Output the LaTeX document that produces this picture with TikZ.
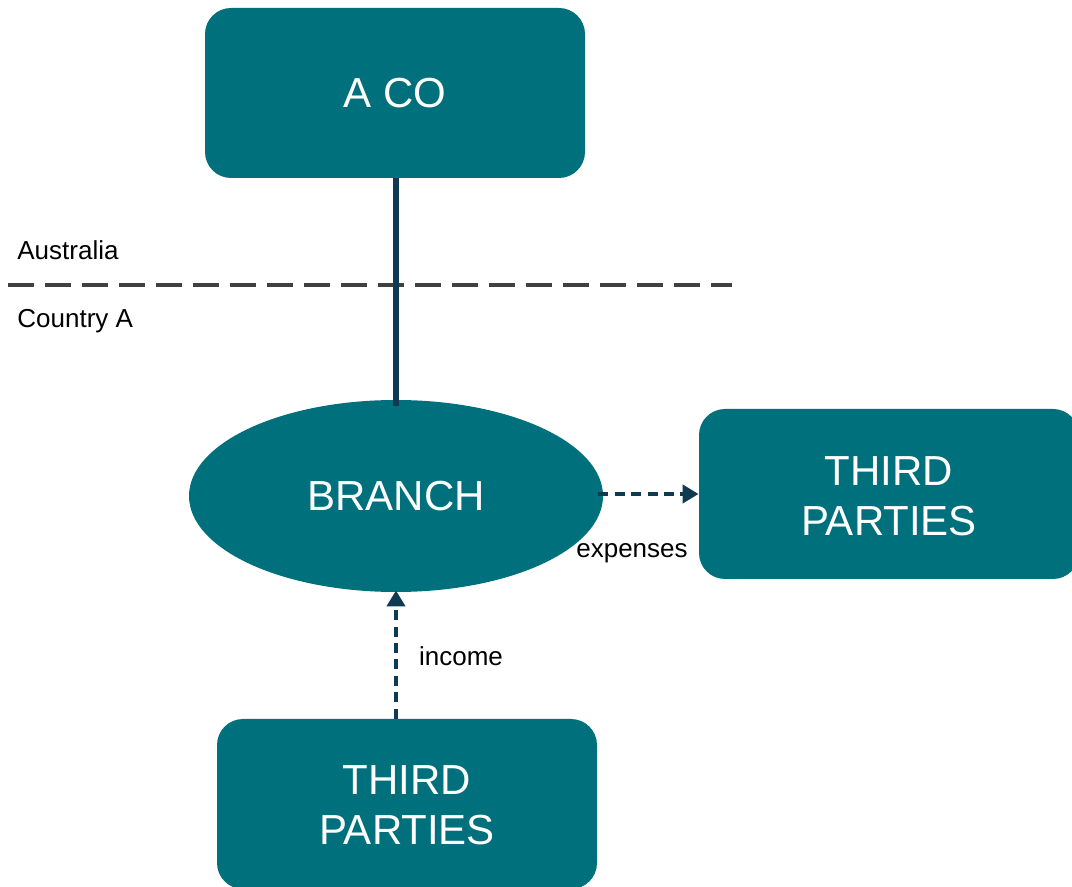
\documentclass[tikz,border=0pt]{standalone}
\usepackage{fontspec}
\setmainfont{Liberation Sans}
\usetikzlibrary{arrows.meta,shapes.geometric}
\definecolor{teal}{HTML}{00717C}
\definecolor{navy}{HTML}{0F3A52}
\definecolor{border}{HTML}{404040}
\tikzset{
  entity/.style={fill=teal, draw=none, rounded corners=13pt, text=white,
    font=\fontsize{21}{25}\selectfont, align=center, inner sep=0pt},
  branchshape/.style={ellipse, fill=teal, draw=none, text=white,
    font=\fontsize{21}{25}\selectfont, inner sep=0pt},
  link/.style={navy, line width=2.6pt},
  flow/.style={navy, line width=2pt, dash pattern=on 5pt off 3.2pt,
    -{Triangle[length=8pt,width=9pt]}},
  lbl/.style={font=\fontsize{13}{15}\selectfont, text=black, inner sep=0pt},
}
\begin{document}
\begin{tikzpicture}[x=0.5pt,y=-0.5pt]
\useasboundingbox (0,0) rectangle (1072,887);
\begin{scope}
\clip (0,0) rectangle (1072,887);
% parent company
\node[entity, minimum width=190pt, minimum height=85pt] (aco) at (395,93) {A CO};
% branch
\node[branchshape, minimum width=207pt, minimum height=96pt] (branch) at (396,496) {BRANCH};
% third parties (right, runs off the page edge)
\node[entity, minimum width=190pt, minimum height=85pt] (tpright) at (889,494) {};
\node[text=white, font=\fontsize{21}{25}\selectfont, align=center] (tprtext) at (889,496) {THIRD\\PARTIES};
% third parties (bottom, runs off the page edge)
\node[entity, minimum width=190pt, minimum height=85pt] (tpbottom) at (407,804) {};
\node[text=white, font=\fontsize{21}{25}\selectfont, align=center] (tpbtext) at (407,805) {THIRD\\PARTIES};
\end{scope}
% jurisdiction boundary
\coordinate (bl) at (8,285);
\coordinate (br) at (732,285);
\draw[border, line width=1.6pt, dash pattern=on 13pt off 5.5pt] (bl) -- (br);
\node[lbl, anchor=west] (aus) at (17,250) {Australia};
\node[lbl, anchor=west] (cty) at (17,321) {Country A};
% ownership link
\draw[link] (branch.north |- aco.south) -- ([yshift=-3pt]branch.north);
% flows
\coordinate (expstart) at ([xshift=-2.5pt,yshift=1pt]branch.east);
\draw[flow] (expstart) -- (expstart -| tpright.west);
\draw[flow] (branch.south |- tpbottom.north) -- ([yshift=1pt]branch.south);
\node[lbl] (exp) at (632,553) {expenses};
\node[lbl] (inc) at (461,656) {income};
\end{tikzpicture}
\end{document}
